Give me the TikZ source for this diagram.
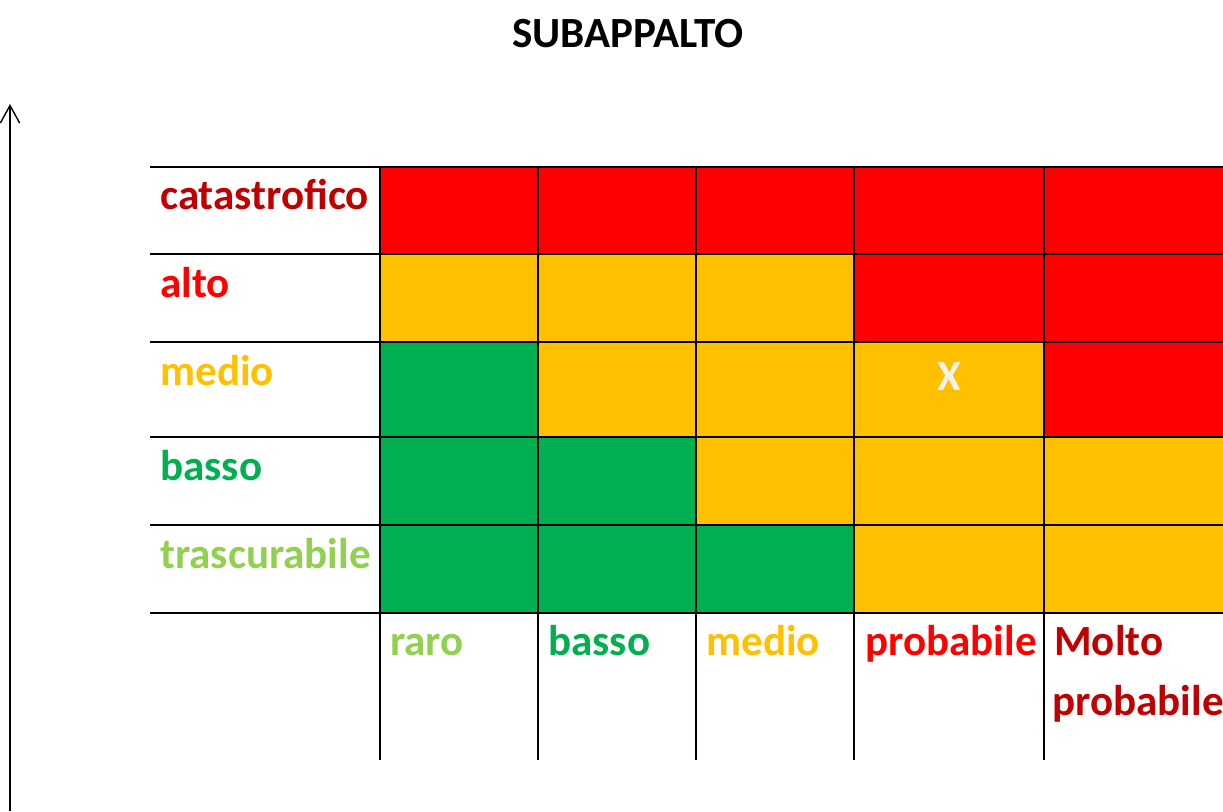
\documentclass[tikz,border=0pt]{standalone}
\usepackage{fontspec}
\setmainfont{Carlito}
\usetikzlibrary{arrows.meta}
\definecolor{rosso}{HTML}{FF0000}
\definecolor{rossoscuro}{HTML}{C00000}
\definecolor{arancio}{HTML}{FFC000}
\definecolor{verde}{HTML}{00B050}
\definecolor{verdechiaro}{HTML}{92D050}
\definecolor{grigiochiaro}{HTML}{F2F2F2}
\begin{document}
\begin{tikzpicture}[x=0.02cm,y=-0.02cm,
	testo/.style={inner sep=0pt,font=\fontsize{24.5}{28}\selectfont\bfseries},
	etichetta/.style={testo,anchor=base west},
	linea/.style={line width=1.2pt,black}]
	\useasboundingbox (0,0) rectangle (1223,811);
	\node[testo,anchor=base] (titolo) at (628,48) {SUBAPPALTO};
	\foreach \su/\giu/\cols in {167/254/{rosso,rosso,rosso,rosso,rosso},
			254/342/{arancio,arancio,arancio,rosso,rosso},
			342/437/{verde,arancio,arancio,arancio,rosso},
			437/525/{verde,verde,arancio,arancio,arancio},
			525/613/{verde,verde,verde,arancio,arancio}}
		\foreach \c [count=\j] in \cols {
			\pgfmathsetmacro\sx{{380,538,696,854,1044}[\j-1]}
			\pgfmathsetmacro\dx{{538,696,854,1044,1223}[\j-1]}
			\fill[\c] (\sx,\su) rectangle (\dx,\giu);
		}
	\foreach \y in {167,254,342,437,525,613}
		\draw[linea] (150,\y) -- (1223,\y);
	\foreach \x in {380,538,696,854,1044}
		\draw[linea] (\x,167) -- (\x,760);
	% impatto
	\node[etichetta,text=rossoscuro] (catastrofico) at (160,209) {catastrofico};
	\node[etichetta,text=rosso] (alto) at (160,297) {alto};
	\node[etichetta,text=arancio] (medio) at (160,385) {medio};
	\node[etichetta,text=verde] (basso) at (160,480) {basso};
	\node[etichetta,text=verdechiaro] (trascurabile) at (160,568) {trascurabile};
	% probabilita
	\node[etichetta,text=verdechiaro] (p-raro) at (390,655) {raro};
	\node[etichetta,text=verde] (p-basso) at (548,655) {basso};
	\node[etichetta,text=arancio] (p-medio) at (706,655) {medio};
	\node[etichetta,text=rosso] (p-probabile) at (865,655) {probabile};
	\node[etichetta,text=rossoscuro] (p-molto) at (1054,655) {Molto};
	\node[etichetta,text=rossoscuro] (p-molto2) at (1052,715) {probabile};
	\node[testo,anchor=base,text=grigiochiaro] (segno) at (949,390) {X};
	\coordinate (asse-base) at (10,811);
	\coordinate (asse-cima) at (10,104);
	\draw[line width=0.8pt,-{Straight Barb[length=10pt,width=11pt]}] (asse-base) -- (asse-cima);
\end{tikzpicture}
\end{document}
